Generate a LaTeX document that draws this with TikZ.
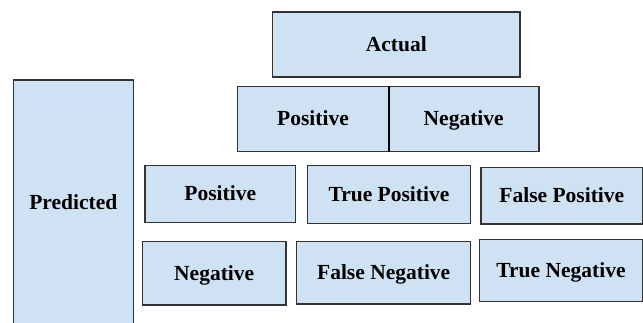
\documentclass[tikz,border=0pt]{standalone}
\usepackage{fontspec}
\setmainfont{Liberation Serif}[BoldFont={Liberation Serif Bold}]
\definecolor{cellfill}{HTML}{CFE2F3}
\definecolor{celledge}{HTML}{333333}
\begin{document}
\begin{tikzpicture}[x=1pt,y=-1pt,
  cell/.style={draw=celledge, fill=cellfill, line width=1.3pt, rectangle, inner sep=0pt,
    text height=14pt, text depth=0pt,
    font=\rmfamily\fontsize{21.5}{24}\selectfont\bfseries, text=black}]
\useasboundingbox (0,0) rectangle (643,323);
\clip (0,0) rectangle (643,323);
\node[cell, minimum width=247.3pt, minimum height=65pt] (actual) at (396.3,44.5) {Actual};
\node[cell, minimum width=150.6pt, minimum height=65.4pt] (hpos) at (313,119) {Positive};
\node[cell, minimum width=150.7pt, minimum height=65.4pt] (hneg) at (463.7,119) {Negative};
\draw[line width=2.4pt, black] (hpos.north east) -- (hpos.south east);
\node[cell, minimum width=120pt, minimum height=246pt] (pred) at (73.3,203) {Predicted};
\node[cell, minimum width=150.7pt, minimum height=56.6pt] (ppos) at (220.3,194) {Positive};
\node[cell, minimum width=163.4pt, minimum height=57.6pt] (tp) at (389,194.5) {True Positive};
\node[cell, minimum width=161.7pt, minimum height=56.7pt] (fp) at (561.8,195.7) {False Positive};
\node[cell, minimum width=143.7pt, minimum height=63.7pt] (pneg) at (214.2,273.2) {Negative};
\node[cell, minimum width=174pt, minimum height=62.7pt] (fn) at (383.7,272.7) {False Negative};
\node[cell, minimum width=163.4pt, minimum height=62.4pt] (tn) at (561,270.5) {True Negative};
\end{tikzpicture}
\end{document}
